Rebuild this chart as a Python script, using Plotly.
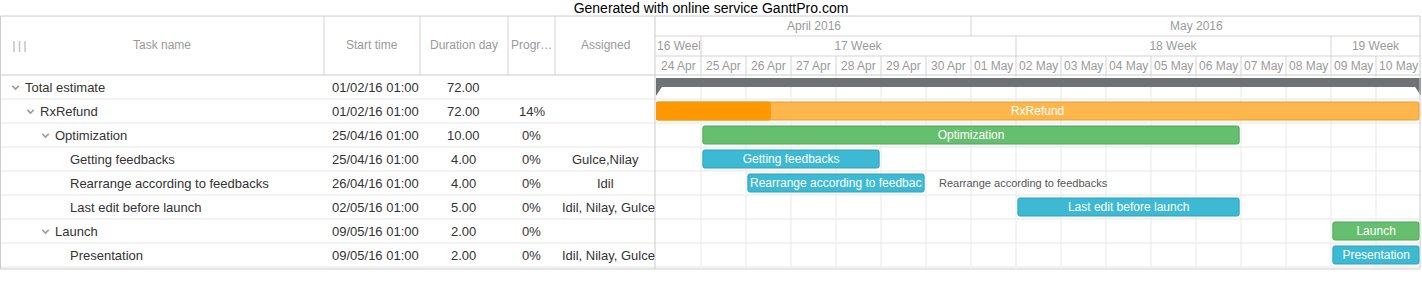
import plotly.graph_objects as go
import pandas as pd

# ---------------- data ----------------
TITLE = "Generated with online service GanttPro.com"

task_names = ["Total estimate", "RxRefund", "Optimization", "Getting feedbacks",
              "Rearrange according to feedbacks", "Last edit before launch",
              "Launch", "Presentation"]
task_levels = [0, 1, 2, 3, 3, 3, 2, 3]
task_types = ["summary", "project", "group", "task", "task", "task", "group", "task"]
start_times = ["01/02/16 01:00", "01/02/16 01:00", "25/04/16 01:00", "25/04/16 01:00",
               "26/04/16 01:00", "02/05/16 01:00", "09/05/16 01:00", "09/05/16 01:00"]
durations = ["72.00", "72.00", "10.00", "4.00", "4.00", "5.00", "2.00", "2.00"]
progress = ["", "14%", "0%", "0%", "0%", "0%", "0%", "0%"]
assigned = ["", "", "", "Gulce,Nilay", "Idil", "Idil, Nilay, Gulce", "", "Idil, Nilay, Gulce"]

# visible bar extents
bar_start = ["2016-04-24 00:00", "2016-04-24 00:00", "2016-04-25 01:00", "2016-04-25 01:00",
             "2016-04-26 01:00", "2016-05-02 01:00", "2016-05-09 01:00", "2016-05-09 01:00"]
bar_end = ["2016-05-11 00:00", "2016-05-10 23:00", "2016-05-06 23:00", "2016-04-28 23:00",
           "2016-04-29 23:00", "2016-05-06 23:00", "2016-05-10 23:00", "2016-05-10 23:00"]
rx_progress_end = "2016-04-26 13:00"

column_titles = ["Task name", "Start time", "Duration day", "Progr…", "Assigned"]

day_labels = ["24 Apr", "25 Apr", "26 Apr", "27 Apr", "28 Apr", "29 Apr", "30 Apr",
              "01 May", "02 May", "03 May", "04 May", "05 May", "06 May", "07 May",
              "08 May", "09 May", "10 May"]
day_dates = ["2016-04-24", "2016-04-25", "2016-04-26", "2016-04-27", "2016-04-28",
             "2016-04-29", "2016-04-30", "2016-05-01", "2016-05-02", "2016-05-03",
             "2016-05-04", "2016-05-05", "2016-05-06", "2016-05-07", "2016-05-08",
             "2016-05-09", "2016-05-10"]
week_labels = ["16 Week", "17 Week", "18 Week", "19 Week"]
week_starts = ["2016-04-24", "2016-04-25", "2016-05-02", "2016-05-09"]
week_ends = ["2016-04-25", "2016-05-02", "2016-05-09", "2016-05-11"]
month_labels = ["April 2016", "May 2016"]
month_starts = ["2016-04-24", "2016-05-01"]
month_ends = ["2016-05-01", "2016-05-11"]

# ---------------- layout constants ----------------
W, H = 1422, 300
FONT = "Liberation Sans, Arial, sans-serif"
G_LEFT, G_RIGHT = 656, 1421
ROW0, ROW_H = 87, 24
VIEW_START, VIEW_END = "2016-04-24", "2016-05-11"
PX_PER_DAY = (G_RIGHT - G_LEFT) / (pd.Timestamp(VIEW_END) - pd.Timestamp(VIEW_START)).days
TABLE_RIGHT = 655
COL_SEPS = [324, 420, 508, 555]
COL_CENTERS = [162, 372, 464, 531.5, 605]
RIGHT_EDGE = 1420
TOP, HEAD_BOTTOM, BOTTOM = 16, 75, 269

HEADER_LINE = "#d3d3d3"
ROW_LINE = "#e6e6e6"
GRID_LINE = "#e9e9e9"
HEAD_TEXT = "#9a9a9a"
BODY_TEXT = "#333333"

STYLES = {
    "summary": dict(fill="#6e7272", line="#6e7272"),
    "project": dict(fill="#ffb74d", line="#f09a1c"),
    "group": dict(fill="#66bf6e", line="#4aa454"),
    "task": dict(fill="#3db9d4", line="#2aa2be"),
}
PROGRESS_FILL = "#ff9800"


def xp(p):
    return p / W


def yp(p):
    return 1 - p / H


def yrow(p):
    return (p - ROW0) / ROW_H


fig = go.Figure()
shapes = []
annotations = []

# ---------------- bars ----------------
for i, name in enumerate(task_names):
    s = pd.Timestamp(bar_start[i])
    e = pd.Timestamp(bar_end[i])
    dur_ms = (e - s).total_seconds() * 1000
    st = STYLES[task_types[i]]
    if task_types[i] == "summary":
        fig.add_trace(go.Bar(orientation="h", y=[i], base=[s], x=[dur_ms],
                             width=0.375, offset=-0.375,
                             marker=dict(color=st["fill"], line=dict(width=0)),
                             hoverinfo="skip", showlegend=False))
        cap = pd.Timedelta(hours=3.2)
        for xs in ([s, s, s + cap, s], [e, e, e - cap, e]):
            fig.add_trace(go.Scatter(x=xs, y=[i - 0.01, i + 0.36, i - 0.01, i - 0.01],
                                     mode="lines", fill="toself", fillcolor=st["fill"],
                                     line=dict(width=0, color=st["fill"]),
                                     hoverinfo="skip", showlegend=False))
        continue
    fig.add_trace(go.Bar(orientation="h", y=[i], base=[s], x=[dur_ms], width=0.75,
                         marker=dict(color=st["fill"], line=dict(color=st["line"], width=1),
                                     cornerradius=2),
                         hoverinfo="skip", showlegend=False))
    if task_types[i] == "project":
        pe = pd.Timestamp(rx_progress_end)
        fig.add_trace(go.Bar(orientation="h", y=[i], base=[s],
                             x=[(pe - s).total_seconds() * 1000], width=0.75,
                             marker=dict(color=PROGRESS_FILL,
                                         line=dict(color=st["line"], width=1),
                                         cornerradius=2),
                             hoverinfo="skip", showlegend=False))
    # label
    bar_px = (e - s).total_seconds() / 86400 * PX_PER_DAY
    est_text_px = len(name) * 6.2
    mid = s + (e - s) / 2
    fits = est_text_px <= bar_px - 4
    annotations.append(dict(x=mid, y=i, xref="x", yref="y", text=name, showarrow=False,
                            width=bar_px - 4, align="center" if fits else "left",
                            xanchor="center", yanchor="middle",
                            font=dict(family=FONT, size=12, color="white")))
    if not fits:
        annotations.append(dict(x=e, y=i, xref="x", yref="y", text=name, showarrow=False,
                                xanchor="left", yanchor="middle", xshift=13,
                                font=dict(family=FONT, size=11, color="#555555")))

# ---------------- table body ----------------
for i, name in enumerate(task_names):
    lvl = task_levels[i]
    tx = 25 + 15 * lvl
    annotations.append(dict(x=xp(tx - 2), y=i, xref="paper", yref="y", text=name,
                            showarrow=False, xanchor="left", yanchor="middle",
                            font=dict(family=FONT, size=13, color=BODY_TEXT)))
    if task_types[i] != "task":
        cx, cy = tx - 9.5, ROW0 + ROW_H * i + 0.5
        shapes.append(dict(type="path", xref="paper", yref="paper",
                           path=f"M {xp(cx-3.2)},{yp(cy-1.6)} L {xp(cx)},{yp(cy+1.6)} L {xp(cx+3.2)},{yp(cy-1.6)}",
                           line=dict(color="#9a9a9a", width=1.5)))
    annotations.append(dict(x=xp(330), y=i, xref="paper", yref="y", text=start_times[i],
                            showarrow=False, xanchor="left", yanchor="middle",
                            font=dict(family=FONT, size=13, color=BODY_TEXT)))
    annotations.append(dict(x=xp(COL_CENTERS[2]), y=i, xref="paper", yref="y",
                            text=durations[i], showarrow=False, xanchor="center",
                            yanchor="middle",
                            font=dict(family=FONT, size=13, color=BODY_TEXT)))
    if progress[i]:
        annotations.append(dict(x=xp(COL_CENTERS[3]), y=i, xref="paper", yref="y",
                                text=progress[i], showarrow=False, xanchor="center",
                                yanchor="middle",
                                font=dict(family=FONT, size=13, color=BODY_TEXT)))
    if assigned[i]:
        wide = len(assigned[i]) * 6.2 > (TABLE_RIGHT - COL_SEPS[3] - 8)
        if wide:
            annotations.append(dict(x=xp(560), y=i, xref="paper", yref="y",
                                    text=assigned[i], showarrow=False, xanchor="left",
                                    yanchor="middle", width=TABLE_RIGHT - 562, align="left",
                                    font=dict(family=FONT, size=13, color=BODY_TEXT)))
        else:
            annotations.append(dict(x=xp(COL_CENTERS[4]), y=i, xref="paper", yref="y",
                                    text=assigned[i], showarrow=False, xanchor="center",
                                    yanchor="middle",
                                    font=dict(family=FONT, size=13, color=BODY_TEXT)))

# ---------------- table header ----------------
for j, t in enumerate(column_titles):
    annotations.append(dict(x=xp(COL_CENTERS[j]), y=yp(45.5), xref="paper", yref="paper",
                            text=t, showarrow=False, xanchor="center", yanchor="middle",
                            font=dict(family=FONT, size=12, color=HEAD_TEXT)))
for bx in (14, 19.5, 25):
    shapes.append(dict(type="line", xref="paper", yref="paper", x0=xp(bx), x1=xp(bx),
                       y0=yp(41), y1=yp(52), line=dict(color="#c4c4c4", width=1.5)))
for cx in COL_SEPS:
    shapes.append(dict(type="line", xref="paper", yref="paper", x0=xp(cx), x1=xp(cx),
                       y0=yp(TOP), y1=yp(HEAD_BOTTOM), line=dict(color=HEADER_LINE, width=1)))

# ---------------- timeline header ----------------
for lab, d in zip(day_labels, day_dates):
    c = pd.Timestamp(d) + pd.Timedelta(hours=12)
    annotations.append(dict(x=c, y=yp(66), xref="x", yref="paper", text=lab,
                            showarrow=False, xanchor="center", yanchor="middle",
                            font=dict(family=FONT, size=12, color=HEAD_TEXT)))
for lab, a, b in zip(week_labels, week_starts, week_ends):
    a, b = pd.Timestamp(a), pd.Timestamp(b)
    span_px = (b - a).total_seconds() / 86400 * PX_PER_DAY
    narrow = len(lab) * 6.8 > span_px
    annotations.append(dict(x=a + (b - a) / 2, y=yp(46), xref="x", yref="paper", text=lab,
                            showarrow=False, xanchor="center", yanchor="middle",
                            width=span_px - 2, align="left" if narrow else "center",
                            font=dict(family=FONT, size=12, color=HEAD_TEXT)))
    if b < pd.Timestamp(VIEW_END):
        shapes.append(dict(type="line", xref="x", yref="paper", x0=b, x1=b,
                           y0=yp(36), y1=yp(56), line=dict(color=HEADER_LINE, width=1)))
for lab, a, b in zip(month_labels, month_starts, month_ends):
    a, b = pd.Timestamp(a), pd.Timestamp(b)
    annotations.append(dict(x=a + (b - a) / 2, y=yp(26), xref="x", yref="paper", text=lab,
                            showarrow=False, xanchor="center", yanchor="middle",
                            font=dict(family=FONT, size=12, color=HEAD_TEXT)))
    if b < pd.Timestamp(VIEW_END):
        shapes.append(dict(type="line", xref="x", yref="paper", x0=b, x1=b,
                           y0=yp(TOP), y1=yp(36), line=dict(color=HEADER_LINE, width=1)))
for d in day_dates[1:]:
    shapes.append(dict(type="line", xref="x", yref="paper", x0=d, x1=d,
                       y0=yp(56), y1=yp(HEAD_BOTTOM), line=dict(color=HEADER_LINE, width=1),
                       layer="below"))
    shapes.append(dict(type="line", xref="x", yref="y", x0=d, x1=d,
                       y0=-0.5, y1=len(task_names) - 0.5,
                       line=dict(color=GRID_LINE, width=1), layer="below"))
for yy in (36, 56):
    shapes.append(dict(type="line", xref="paper", yref="paper", x0=xp(TABLE_RIGHT),
                       x1=xp(RIGHT_EDGE), y0=yp(yy), y1=yp(yy),
                       line=dict(color=HEADER_LINE, width=1)))

# ---------------- row lines and borders ----------------
for i in range(len(task_names)):
    shapes.append(dict(type="line", xref="paper", yref="y", x0=0, x1=xp(RIGHT_EDGE),
                       y0=i + 0.5, y1=i + 0.5, line=dict(color=ROW_LINE, width=1),
                       layer="below"))
for yy in (TOP, HEAD_BOTTOM, BOTTOM):
    shapes.append(dict(type="line", xref="paper", yref="paper", x0=xp(0.5),
                       x1=xp(RIGHT_EDGE), y0=yp(yy), y1=yp(yy),
                       line=dict(color="#cccccc", width=1)))
for xx in (0.5, TABLE_RIGHT, RIGHT_EDGE):
    shapes.append(dict(type="line", xref="paper", yref="paper", x0=xp(xx), x1=xp(xx),
                       y0=yp(TOP), y1=yp(BOTTOM), line=dict(color="#cccccc", width=1)))

fig.update_layout(
    width=W, height=H, autosize=False,
    margin=dict(l=0, r=0, t=0, b=0, pad=0),
    paper_bgcolor="white", plot_bgcolor="white",
    barmode="overlay",
    showlegend=False,
    title=dict(text=TITLE, x=0.5, xanchor="center", y=yp(8.5), yanchor="middle",
               yref="container", font=dict(family=FONT, size=14, color="black")),
    xaxis=dict(type="date", range=[VIEW_START, VIEW_END],
               domain=[G_LEFT / W, G_RIGHT / W], showgrid=False, zeroline=False,
               showticklabels=False, ticks="", showline=False, fixedrange=True),
    yaxis=dict(range=[yrow(H), yrow(0)], domain=[0, 1], showgrid=False, zeroline=False,
               showticklabels=False, ticks="", showline=False, fixedrange=True),
    shapes=shapes,
    annotations=annotations,
    hovermode=False,
)

fig.write_html("out.html")
